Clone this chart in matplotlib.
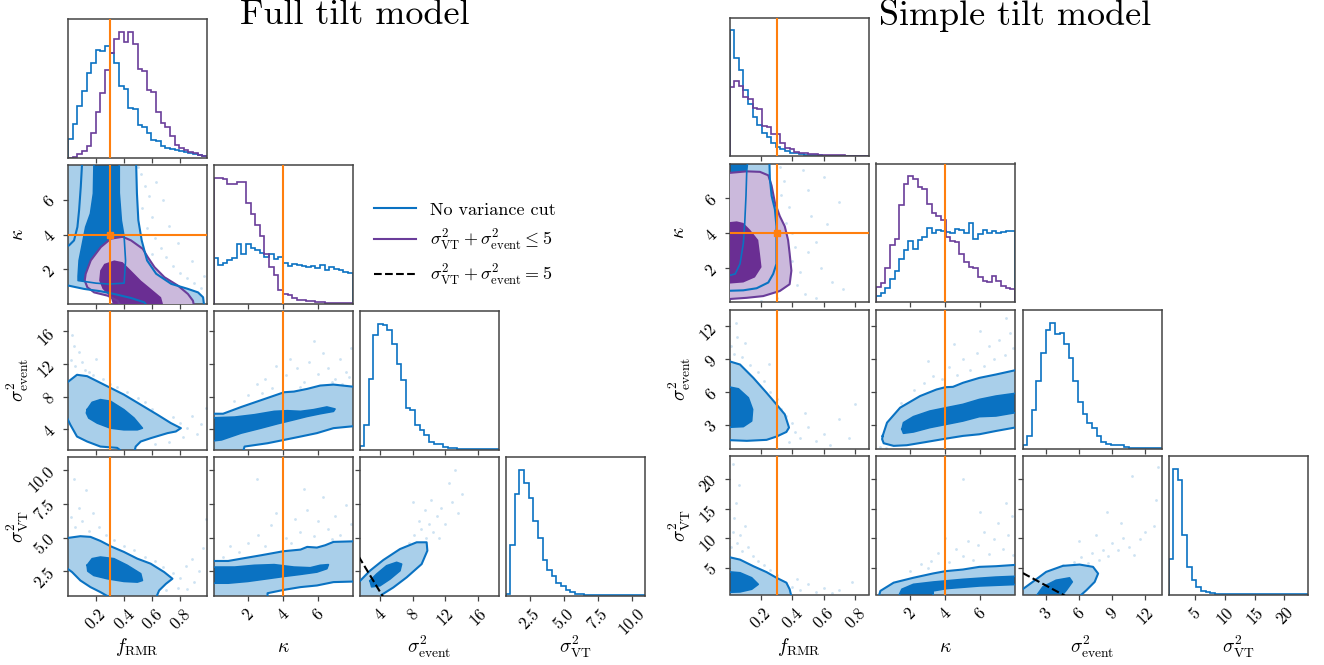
import numpy as np
import matplotlib
matplotlib.use("Agg")
import matplotlib.pyplot as plt
from matplotlib.lines import Line2D

plt.rcParams["font.family"] = "serif"
plt.rcParams["font.serif"] = ["cmr10"]
plt.rcParams["mathtext.fontset"] = "cm"
plt.rcParams["axes.formatter.use_mathtext"] = True
plt.rcParams["axes.unicode_minus"] = False

BLUE = "#0a72c2"
BLUE_LIGHT = "#a9cfea"
PURPLE = "#6a3d9a"
PURPLE_DARK = "#6a2e93"
PURPLE_LIGHT = "#cbb9dc"
ORANGE = "#ff7f0e"

# ---------------- data ----------------
labels = [r"$f_{\rm RMR}$", r"$\kappa$", r"$\sigma^2_{\rm event}$", r"$\sigma^2_{\rm VT}$"]
truths = [0.3, 4.0, None, None]

full_ranges = [(0.0, 0.99), (0.03, 8.0), (1.5, 18.5), (0.72, 10.95)]
simple_ranges = [(0.0, 0.885), (0.05, 8.0), (0.85, 13.5), (0.5, 23.9)]

full_ticks = [[0.2, 0.4, 0.6, 0.8], [2, 4, 6], [4, 8, 12, 16], [2.5, 5.0, 7.5, 10.0]]
full_ticklabels = [["0.2", "0.4", "0.6", "0.8"], ["2", "4", "6"], ["4", "8", "12", "16"],
                   ["2.5", "5.0", "7.5", "10.0"]]
simple_ticks = [[0.2, 0.4, 0.6, 0.8], [2, 4, 6], [3, 6, 9, 12], [5, 10, 15, 20]]
simple_ticklabels = [["0.2", "0.4", "0.6", "0.8"], ["2", "4", "6"], ["3", "6", "9", "12"],
                     ["5", "10", "15", "20"]]

# 1D histograms (30 bins over the axis range, relative heights)
full_f_hist_blue = [55, 100, 155, 200, 255, 283, 323, 321, 335, 315, 283, 215, 205, 150, 145,
                    98, 93, 75, 53, 50, 35, 30, 25, 23, 20, 18, 13, 11, 8, 5]
full_f_hist_purple = [0, 3, 11, 19, 35, 75, 138, 193, 263, 313, 355, 378, 348, 378, 340,
                      265, 260, 203, 196, 138, 103, 93, 65, 38, 28, 23, 18, 13, 8, 5]
full_kappa_hist_blue = [137, 117, 122, 132, 137, 182, 149, 182, 167, 162, 152, 142, 150, 134, 142,
                        122, 114, 119, 116, 114, 110, 114, 107, 117, 102, 110, 104, 102, 97, 92]
full_kappa_hist_purple = [382, 380, 377, 364, 362, 369, 370, 304, 272, 237, 204, 150, 112, 87, 42,
                          30, 27, 17, 12, 10, 8, 7, 5, 4, 3, 2, 2, 1, 1, 1]
full_event_hist_blue = [10, 75, 211, 345, 378, 373, 360, 316, 258, 208, 125, 120, 75, 58, 43,
                        23, 18, 16, 8, 5, 4, 2, 2, 1.5, 1, 1, 1, 0.5, 0.5, 0.3]
full_vt_hist_blue = [3, 150, 303, 377, 337, 293, 222, 173, 107, 77, 57, 37, 27, 17, 9,
                     5, 3, 2, 1.5, 1, 1, 0.5, 0.5, 0.3, 0.3, 0.2, 0.2, 0.1, 0.1, 0.1]

simple_f_hist_blue = [378, 295, 258, 198, 156, 116, 93, 70, 58, 40, 28, 22, 15, 10, 8,
                      5, 4, 3, 2, 2, 1.5, 1, 1, 1, 0.5, 0.5, 0.5, 0.3, 0.3, 0.3]
simple_f_hist_purple = [208, 225, 210, 176, 170, 145, 140, 90, 88, 66, 66, 40, 25, 20, 13,
                        8, 8, 6, 5, 4, 3, 3, 2, 2, 2, 1, 1, 1, 1, 0.5]
simple_kappa_hist_blue = [18, 28, 43, 70, 93, 130, 156, 185, 161, 188, 198, 223, 210, 218, 216,
                          213, 210, 220, 218, 208, 238, 190, 206, 218, 210, 216, 210, 213, 215, 215]
simple_kappa_hist_purple = [46, 58, 103, 173, 191, 293, 358, 381, 371, 348, 343, 298, 268, 260, 248,
                            196, 185, 183, 145, 121, 106, 103, 76, 63, 60, 78, 63, 48, 43, 38]
simple_event_hist_blue = [10, 37, 115, 202, 288, 357, 378, 343, 348, 315, 273, 202, 140, 105, 77,
                          63, 37, 20, 15, 12, 10, 10, 4, 3, 2, 2, 1, 1, 1, 1]
simple_vt_hist_blue = [108, 380, 345, 180, 82, 45, 23, 10, 7, 5, 3, 2, 2, 1.5, 1,
                       1, 1, 0.5, 0.5, 0.5, 0.3, 0.3, 0.3, 0.2, 0.2, 0.2, 0.2, 0.2, 0.2, 0.2]

# 2D credible regions (outer = 2 sigma, inner = 1 sigma)
full_f_kappa_blue_outer = [(-0.05, 8.5), (0.484, 8.5), (0.491, 6.36), (0.501, 4.82), (0.525, 3.66),
                           (0.544, 3.08), (0.563, 2.51), (0.628, 1.74), (0.735, 1.16), (0.854, 0.87),
                           (0.926, 0.67), (0.962, 0.39), (0.973, -0.3), (0.58, -0.3), (0.544, 0.096),
                           (0.449, 0.347), (0.329, 0.578), (0.234, 0.733), (0.115, 0.868), (-0.05, 1.15)]
full_f_kappa_blue_edge = [(0.103, 8.5), (0.091, 6.75), (0.079, 5.4), (0.067, 4.43), (0.043, 3.66),
                          (0.007, 3.37), (-0.05, 3.3)]
full_f_kappa_blue_inner = [(0.186, 8.5), (0.181, 6.36), (0.160, 5.2), (0.126, 4.43), (0.079, 2.5),
                           (0.072, 1.6), (0.072, 1.35), (0.20, 1.2), (0.29, 1.15), (0.40, 1.2),
                           (0.41, 2.5), (0.40, 3.85), (0.38, 4.8), (0.365, 6.4), (0.365, 8.5)]
full_f_kappa_purple_outer = [(0.389, 3.87), (0.449, 3.66), (0.532, 3.18), (0.568, 2.70), (0.616, 2.12),
                             (0.687, 1.54), (0.783, 1.06), (0.854, 0.58), (0.89, 0.19), (0.902, -0.3),
                             (0.389, -0.3), (0.353, 0.19), (0.282, 0.48), (0.186, 0.67), (0.138, 0.96),
                             (0.119, 1.35), (0.126, 1.74), (0.162, 2.51), (0.234, 3.28), (0.305, 3.76)]
full_f_kappa_purple_inner = [(0.329, 2.51), (0.389, 2.41), (0.449, 1.93), (0.520, 1.35), (0.592, 0.87),
                             (0.663, 0.39), (0.687, -0.3), (0.329, -0.3), (0.305, 0.39), (0.246, 0.87),
                             (0.222, 1.35), (0.229, 1.93), (0.258, 2.31)]

full_f_event_blue_outer = [(-0.03, 9.4), (0.064, 10.67), (0.136, 10.5), (0.231, 9.68), (0.303, 9.06),
                           (0.398, 8.24), (0.518, 7.0), (0.637, 5.77), (0.733, 4.74), (0.804, 4.12),
                           (0.768, 3.71), (0.709, 3.51), (0.589, 2.89), (0.518, 2.48), (0.482, 1.86),
                           (0.474, 1.3), (0.38, 1.3), (0.35, 1.7), (0.231, 1.86), (0.136, 2.48),
                           (0.064, 3.09), (0.017, 4.53), (-0.03, 6.2)]
full_f_event_blue_inner = [(0.136, 6.39), (0.172, 7.29), (0.231, 7.62), (0.303, 7.42), (0.398, 6.39),
                           (0.470, 5.36), (0.530, 4.12), (0.494, 3.92), (0.398, 3.92), (0.303, 4.12),
                           (0.208, 4.74), (0.148, 5.36), (0.131, 5.98)]

full_kappa_event_blue_outer = [(-0.3, 5.89), (0.58, 5.89), (1.62, 6.72), (3.13, 7.83), (4.08, 8.53),
                               (4.64, 8.61), (5.40, 8.94), (6.15, 9.35), (6.91, 9.47), (8.3, 9.15),
                               (8.3, 4.41), (6.91, 4.12), (5.96, 3.51), (5.02, 3.09), (4.08, 2.68),
                               (3.13, 2.27), (1.81, 1.86), (1.72, 1.2), (-0.3, 1.2)]
full_kappa_event_blue_inner = [(-0.3, 5.36), (1.25, 5.48), (2.38, 5.77), (3.51, 6.18), (4.26, 6.26),
                               (5.02, 6.18), (5.77, 6.39), (6.53, 6.72), (7.0, 6.47), (6.91, 6.18),
                               (6.15, 5.89), (5.40, 5.56), (4.64, 5.15), (3.70, 4.66), (2.75, 4.12),
                               (1.62, 3.51), (0.49, 2.68), (-0.3, 2.48)]

full_f_vt_blue_outer = [(-0.03, 4.93), (0.088, 5.1), (0.160, 5.05), (0.231, 4.75), (0.303, 4.36),
                        (0.398, 3.94), (0.494, 3.44), (0.589, 3.07), (0.685, 2.45), (0.744, 1.96),
                        (0.697, 1.58), (0.649, 1.09), (0.625, 0.5), (0.31, 0.5), (0.231, 0.97),
                        (0.160, 1.34), (0.088, 1.83), (0.029, 2.45), (-0.03, 2.9)]
full_f_vt_blue_inner = [(0.136, 2.95), (0.172, 3.44), (0.231, 3.56), (0.327, 3.44), (0.422, 2.95),
                        (0.518, 2.33), (0.530, 1.83), (0.494, 1.71), (0.398, 1.76), (0.279, 1.96),
                        (0.184, 2.2), (0.141, 2.52)]

full_kappa_vt_blue_outer = [(-0.3, 3.27), (0.87, 3.27), (1.62, 3.44), (2.75, 3.69), (4.04, 3.99),
                            (5.02, 4.11), (5.40, 4.31), (5.96, 4.26), (6.43, 4.43), (6.91, 4.68),
                            (8.3, 4.73), (8.3, 1.76), (6.91, 1.71), (5.96, 1.46), (5.02, 1.34),
                            (4.08, 1.14), (3.13, 0.89), (3.13, 0.5), (-0.3, 0.5)]
full_kappa_vt_blue_inner = [(-0.3, 2.82), (1.25, 2.82), (2.38, 2.95), (3.51, 3.0), (4.64, 2.82),
                            (5.58, 2.77), (6.15, 2.95), (6.62, 3.0), (6.53, 2.70), (5.96, 2.45),
                            (5.02, 2.28), (4.08, 2.13), (3.13, 1.96), (2.0, 1.76), (0.87, 1.63),
                            (-0.3, 1.63)]

full_event_vt_blue_outer = [(1.0, 1.45), (2.78, 2.55), (4.41, 3.34), (6.45, 4.15), (8.49, 4.65),
                            (9.71, 4.65), (9.8, 4.03), (9.1, 3.04), (7.27, 2.06), (5.63, 1.31),
                            (4.2, 0.77), (3.9, 0.5), (1.0, 0.5)]
full_event_vt_blue_inner = [(2.78, 1.81), (3.59, 2.30), (4.82, 2.92), (6.04, 3.17), (6.65, 3.04),
                            (6.45, 2.55), (5.22, 1.93), (4.0, 1.44), (2.98, 1.36)]

simple_f_kappa_blue_outer = [(-0.05, 8.5), (0.253, 8.5), (0.257, 7.13), (0.268, 6.15), (0.289, 5.37),
                             (0.299, 4.39), (0.299, 3.41), (0.299, 2.24), (0.278, 1.66), (0.247, 1.17),
                             (0.173, 0.84), (0.088, 0.72), (-0.05, 0.68)]
simple_f_kappa_blue_inner = [(-0.05, 8.5), (0.120, 8.5), (0.110, 7.61), (0.105, 6.15), (0.097, 4.59),
                             (0.088, 3.41), (0.067, 2.24), (0.036, 1.66), (-0.05, 1.46)]
simple_f_kappa_purple_outer = [(-0.05, 7.42), (0.110, 7.55), (0.194, 7.52), (0.247, 7.32), (0.268, 6.73),
                               (0.289, 5.76), (0.320, 4.98), (0.352, 4.39), (0.373, 3.61), (0.383, 2.83),
                               (0.394, 1.85), (0.383, 1.07), (0.320, 0.68), (0.215, 0.39), (0.110, 0.29),
                               (-0.05, 0.19)]
simple_f_kappa_purple_inner = [(-0.05, 4.59), (0.046, 4.68), (0.088, 4.59), (0.131, 4.20), (0.183, 3.61),
                               (0.194, 2.83), (0.204, 2.05), (0.162, 1.46), (0.088, 1.17), (-0.05, 1.07)]

simple_f_event_blue_outer = [(-0.05, 9.03), (0.067, 8.52), (0.152, 7.30), (0.236, 5.94), (0.299, 4.88),
                             (0.352, 3.97), (0.379, 2.76), (0.362, 2.36), (0.299, 1.94), (0.236, 1.64),
                             (0.110, 1.55), (-0.05, 1.64)]
simple_f_event_blue_inner = [(-0.05, 6.61), (0.057, 6.30), (0.120, 5.48), (0.147, 4.42), (0.141, 3.36),
                             (0.088, 2.85), (-0.05, 2.76)]

simple_kappa_event_blue_outer = [(0.43, 2.0), (0.68, 3.21), (1.43, 4.58), (2.57, 5.64), (3.51, 6.24),
                                 (4.02, 6.45), (4.45, 6.48), (5.02, 6.85), (5.96, 7.30), (6.91, 7.61),
                                 (8.3, 8.1), (8.3, 2.85), (6.91, 2.45), (5.96, 2.15), (5.02, 2.0),
                                 (4.08, 1.76), (2.94, 1.45), (1.81, 1.15), (1.06, 1.09), (0.49, 1.33),
                                 (0.40, 1.70)]
simple_kappa_event_blue_inner = [(1.53, 2.61), (1.62, 3.21), (2.19, 3.76), (3.13, 4.27), (4.08, 4.58),
                                 (5.02, 4.88), (5.96, 5.33), (6.91, 5.64), (8.3, 5.95), (8.3, 4.2),
                                 (6.91, 3.82), (5.96, 3.76), (5.02, 3.36), (4.08, 3.06), (3.13, 2.76),
                                 (2.19, 2.36), (1.62, 2.24)]

simple_f_vt_blue_outer = [(-0.05, 7.1), (0.067, 6.39), (0.152, 5.28), (0.236, 4.28), (0.299, 3.33),
                          (0.362, 2.5), (0.383, 1.39), (0.394, 0.2), (-0.05, 0.2)]
simple_f_vt_blue_inner = [(-0.05, 4.44), (0.067, 4.17), (0.141, 3.33), (0.183, 2.22), (0.141, 1.39),
                          (0.067, 0.94), (-0.05, 0.83)]

simple_kappa_vt_blue_outer = [(0.21, 0.2), (0.30, 1.11), (1.06, 2.5), (2.19, 3.33), (3.32, 4.06),
                              (4.02, 4.44), (5.02, 4.72), (5.96, 5.17), (6.91, 5.28), (8.3, 5.56),
                              (8.3, 0.2)]
simple_kappa_vt_blue_inner = [(1.34, 0.2), (1.53, 1.39), (2.19, 2.22), (3.32, 2.61), (5.02, 3.06),
                              (6.91, 3.44), (8.3, 3.61), (8.3, 2.22), (5.96, 1.94), (4.08, 1.5),
                              (3.32, 1.11), (3.32, 0.2)]

simple_event_vt_blue_outer = [(0.5, 0.9), (1.78, 2.63), (3.0, 4.32), (4.52, 5.34), (6.05, 5.56),
                              (7.27, 5.17), (7.73, 4.04), (7.42, 2.63), (6.66, 1.21), (6.05, 0.2),
                              (0.5, 0.2)]
simple_event_vt_blue_inner = [(2.09, 0.2), (2.70, 1.78), (3.91, 2.91), (5.13, 3.31), (5.38, 2.63),
                              (4.83, 1.21), (4.37, 0.2)]

# faint posterior samples outside the 2-sigma regions (approximate positions)
full_f_kappa_samples = [(0.52, 7.5), (0.55, 6.8), (0.58, 6.2), (0.53, 5.5), (0.6, 5.0), (0.56, 4.4),
                        (0.62, 3.8), (0.66, 3.2), (0.7, 2.7), (0.75, 2.2), (0.8, 1.8), (0.85, 1.5),
                        (0.9, 1.2), (0.95, 0.9), (0.63, 7.0), (0.68, 6.0), (0.72, 4.5), (0.78, 3.5),
                        (0.88, 2.5), (0.6, 2.9), (0.5, 7.9), (0.04, 7.2), (0.02, 5.5), (0.05, 6.3),
                        (0.83, 0.6), (0.97, 1.6)]
full_f_event_samples = [(0.02, 12.5), (0.05, 11.8), (0.08, 13.5), (0.1, 12.2), (0.12, 11.3), (0.04, 14.2),
                        (0.15, 11.0), (0.18, 10.6), (0.2, 12.6), (0.25, 10.2), (0.3, 9.6), (0.35, 9.2),
                        (0.42, 8.6), (0.5, 7.8), (0.55, 7.3), (0.6, 6.5), (0.68, 5.2), (0.75, 5.5),
                        (0.8, 4.8), (0.85, 4.2), (0.88, 5.6), (0.92, 3.4), (0.95, 4.6), (0.82, 3.0),
                        (0.72, 2.4), (0.62, 2.2), (0.98, 6.6), (0.03, 15.5), (0.1, 9.9)]
full_kappa_event_samples = [(1.2, 7.5), (2.0, 8.2), (2.5, 9.5), (3.0, 10.2), (3.4, 9.0), (4.2, 10.6),
                            (4.8, 11.5), (5.2, 9.8), (5.5, 12.2), (6.0, 10.8), (6.3, 13.3), (6.6, 11.5),
                            (7.0, 10.2), (7.3, 12.6), (7.6, 11.0), (7.9, 14.0), (5.8, 14.8), (4.4, 12.6),
                            (3.6, 11.8), (6.8, 9.8), (7.8, 10.4), (2.8, 8.4), (5.0, 9.2), (7.4, 9.6)]
full_f_vt_samples = [(0.02, 6.5), (0.05, 5.8), (0.08, 7.2), (0.1, 6.2), (0.13, 8.5), (0.15, 5.5),
                     (0.18, 6.8), (0.04, 9.3), (0.22, 5.8), (0.27, 5.2), (0.33, 4.8), (0.4, 4.4),
                     (0.47, 4.1), (0.55, 3.6), (0.62, 3.3), (0.68, 2.8), (0.75, 2.4), (0.8, 2.0),
                     (0.84, 2.9), (0.88, 3.4), (0.9, 1.7), (0.93, 2.5), (0.96, 4.2), (0.78, 1.3),
                     (0.7, 1.1), (0.85, 1.2), (0.98, 6.4)]
full_kappa_vt_samples = [(0.6, 3.6), (1.0, 4.4), (1.5, 3.9), (2.0, 4.6), (2.6, 5.2), (3.0, 4.4),
                         (3.3, 5.9), (3.6, 6.8), (4.2, 5.0), (4.5, 4.6), (4.7, 6.4), (5.0, 5.4),
                         (5.4, 7.0), (5.8, 5.1), (6.0, 6.2), (6.3, 8.0), (6.6, 5.6), (7.0, 6.6),
                         (7.3, 5.2), (7.6, 7.4), (7.9, 6.0), (2.5, 9.3), (5.2, 8.6), (6.8, 4.9)]
full_event_vt_samples = [(7.5, 4.6), (8.2, 5.2), (9.0, 5.6), (9.6, 5.0), (10.0, 6.0), (10.5, 5.4),
                         (11.0, 6.6), (8.8, 6.2), (11.5, 7.2), (12.0, 6.0), (12.8, 7.6), (13.5, 6.8),
                         (10.2, 7.8), (9.5, 7.0), (14.0, 8.2), (12.5, 9.0), (8.0, 7.6), (11.2, 5.0),
                         (6.5, 3.9), (13.2, 10.0)]

simple_f_kappa_samples = [(0.32, 7.8), (0.35, 7.0), (0.33, 6.2), (0.38, 5.5), (0.36, 4.6), (0.4, 4.0),
                          (0.42, 3.2), (0.4, 2.4), (0.45, 1.8), (0.43, 1.0), (0.48, 0.5), (0.5, 6.5),
                          (0.52, 5.0), (0.55, 3.5), (0.58, 2.0), (0.6, 7.2), (0.62, 4.5), (0.65, 1.2),
                          (0.47, 7.6), (0.5, 2.9), (0.7, 5.8), (0.72, 0.8), (0.3, 0.3), (0.2, 0.1),
                          (0.55, 0.3)]
simple_f_event_samples = [(0.01, 10.2), (0.03, 9.5), (0.05, 11.0), (0.08, 9.2), (0.1, 10.5), (0.04, 12.3),
                          (0.13, 8.5), (0.18, 7.8), (0.22, 7.0), (0.26, 6.0), (0.3, 5.4), (0.33, 4.5),
                          (0.36, 3.8), (0.4, 3.2), (0.42, 2.4), (0.45, 1.8), (0.5, 2.8), (0.55, 1.5),
                          (0.6, 2.2), (0.64, 1.2), (0.7, 3.5), (0.38, 1.4), (0.48, 4.1), (0.76, 1.8),
                          (0.8, 4.9), (0.25, 8.6)]
simple_kappa_event_samples = [(1.5, 5.0), (2.2, 6.2), (2.8, 6.8), (3.3, 7.5), (3.8, 7.2), (4.2, 8.3),
                              (4.7, 7.6), (5.0, 9.0), (5.4, 8.0), (5.8, 9.6), (6.2, 8.4), (6.5, 10.2),
                              (6.8, 9.0), (7.1, 10.8), (7.4, 9.4), (7.7, 11.4), (7.9, 10.0), (6.0, 11.6),
                              (4.5, 10.4), (3.0, 8.8), (7.5, 12.8), (0.3, 1.0), (0.6, 0.9)]
simple_f_vt_samples = [(0.01, 8.5), (0.02, 11.0), (0.03, 13.5), (0.05, 9.2), (0.07, 10.5), (0.08, 7.8),
                       (0.1, 12.0), (0.12, 8.6), (0.04, 16.0), (0.15, 7.0), (0.18, 6.2), (0.22, 5.4),
                       (0.26, 4.6), (0.3, 3.8), (0.36, 2.5), (0.4, 1.8), (0.45, 1.2), (0.5, 2.2),
                       (0.55, 1.0), (0.6, 1.6), (0.65, 0.8), (0.7, 1.3), (0.43, 3.2), (0.78, 2.6),
                       (0.02, 22.5), (0.06, 19.0)]
simple_kappa_vt_samples = [(2.0, 4.5), (2.6, 5.6), (3.2, 6.2), (3.6, 7.5), (4.2, 6.0), (4.6, 8.2),
                           (5.0, 7.0), (5.3, 9.5), (5.6, 6.4), (5.9, 8.8), (6.2, 11.0), (6.5, 7.4),
                           (6.8, 9.8), (7.0, 12.5), (7.3, 8.2), (7.6, 10.6), (7.8, 13.8), (7.9, 7.2),
                           (6.0, 14.5), (4.0, 10.0), (7.5, 16.0), (5.0, 20.0), (3.0, 4.9), (0.4, 0.6)]
simple_event_vt_samples = [(5.5, 6.0), (6.2, 6.8), (6.8, 5.8), (7.2, 7.5), (7.8, 6.4), (8.2, 8.0),
                           (8.6, 7.0), (9.0, 9.2), (9.5, 8.0), (10.0, 10.0), (10.5, 8.6), (11.0, 7.2),
                           (11.5, 9.8), (12.0, 11.0), (6.0, 9.5), (7.5, 10.5), (9.8, 12.5), (12.8, 12.0),
                           (13.2, 22.0), (10.8, 20.5), (13.0, 16.5), (8.5, 14.5), (4.5, 5.5)]

# variance cut boundary sigma_VT^2 + sigma_event^2 = 5
cut_event = [0.0, 5.0]
cut_vt = [5.0, 0.0]

# ---------------- layout (pixels) ----------------
W, H = 1324, 665
full_cols = [68, 213.5, 359.5, 505.5]
full_rows = [19, 165, 311, 457]
simple_cols = [729.5, 876, 1022.5, 1168.5]
simple_rows = [17.5, 163.5, 310, 456]
panel_w, panel_h = 139, 138.5

fig = plt.figure(figsize=(W / 100, H / 100), dpi=100)


def add_panel(x0, y0):
    return fig.add_axes([x0 / W, 1 - (y0 + panel_h) / H, panel_w / W, panel_h / H])


def region(ax, pts, color, z):
    xs, ys = zip(*pts)
    ax.fill(xs, ys, color=color, lw=0, zorder=z)


def outline(ax, pts, color, z, lw=1.5, closed=True):
    xs, ys = list(zip(*pts))
    xs, ys = list(xs), list(ys)
    if closed:
        xs.append(xs[0])
        ys.append(ys[0])
    ax.plot(xs, ys, color=color, lw=lw, zorder=z, solid_joinstyle="round")


def corner(cols, rows, ranges, ticks, ticklabels, hists, blue2d, purple2d, samples, extra_edges):
    axes = {}
    for i in range(4):
        for j in range(i + 1):
            ax = add_panel(cols[j], rows[i])
            axes[(i, j)] = ax
            for s in ax.spines.values():
                s.set_color("#444444")
                s.set_linewidth(1.1)
            ax.set_xlim(*ranges[j])
            ax.set_xticks(ticks[j])
            ax.tick_params(length=3.5, width=0.9, colors="#444444", labelsize=12,
                           labelcolor="black", pad=4)
            if i == 3:
                ax.set_xticklabels(ticklabels[j], rotation=45)
            else:
                ax.set_xticklabels([])
            if i == j:
                ax.set_yticks([])
                series = hists[i]
                top = max(max(v) for v, _ in series)
                for vals, col in series:
                    edges = np.linspace(ranges[j][0], ranges[j][1], len(vals) + 1)
                    ax.stairs(vals, edges, color=col, lw=1.2)
                ax.set_ylim(0, 1.1 * top)
            else:
                ax.set_ylim(*ranges[i])
                ax.set_yticks(ticks[i])
                if j == 0:
                    ax.set_yticklabels(ticklabels[i], rotation=45)
                else:
                    ax.set_yticklabels([])
                sx, sy = zip(*samples[(i, j)])
                ax.scatter(sx, sy, s=4, color=BLUE, alpha=0.2, lw=0, zorder=0.5)
                outer, inner = blue2d[(i, j)]
                region(ax, outer, BLUE_LIGHT, 1)
                region(ax, inner, BLUE, 2)
                if (i, j) in purple2d:
                    p_out, p_in = purple2d[(i, j)]
                    region(ax, p_out, PURPLE_LIGHT, 3)
                    region(ax, p_in, PURPLE_DARK, 4)
                    outline(ax, p_out, PURPLE, 5)
                outline(ax, outer, BLUE, 6)
                outline(ax, inner, BLUE, 6, lw=1.2)
                if (i, j) in extra_edges:
                    outline(ax, extra_edges[(i, j)], BLUE, 6, closed=False)
                if truths[i] is not None:
                    ax.axhline(truths[i], color=ORANGE, lw=1.5, zorder=8)
            if truths[j] is not None:
                ax.axvline(truths[j], color=ORANGE, lw=1.5, zorder=8)
            if i != j and truths[i] is not None and truths[j] is not None:
                ax.plot(truths[j], truths[i], "s", color=ORANGE, ms=5, zorder=9)
    axes[(3, 2)].plot(cut_event, cut_vt, color="black", ls="--", lw=1.5, zorder=7)
    for k in range(4):
        fig.text((cols[k] + panel_w / 2) / W, 1 - 647 / H, labels[k], ha="center", va="center",
                 fontsize=14)
    for k in range(1, 4):
        fig.text((cols[0] - 50) / W, 1 - (rows[k] + panel_h / 2) / H, labels[k], ha="center",
                 va="center", rotation=90, fontsize=14)
    return axes


corner(full_cols, full_rows, full_ranges, full_ticks, full_ticklabels,
       [[(full_f_hist_blue, BLUE), (full_f_hist_purple, PURPLE)],
        [(full_kappa_hist_blue, BLUE), (full_kappa_hist_purple, PURPLE)],
        [(full_event_hist_blue, BLUE)],
        [(full_vt_hist_blue, BLUE)]],
       {(1, 0): (full_f_kappa_blue_outer, full_f_kappa_blue_inner),
        (2, 0): (full_f_event_blue_outer, full_f_event_blue_inner),
        (2, 1): (full_kappa_event_blue_outer, full_kappa_event_blue_inner),
        (3, 0): (full_f_vt_blue_outer, full_f_vt_blue_inner),
        (3, 1): (full_kappa_vt_blue_outer, full_kappa_vt_blue_inner),
        (3, 2): (full_event_vt_blue_outer, full_event_vt_blue_inner)},
       {(1, 0): (full_f_kappa_purple_outer, full_f_kappa_purple_inner)},
       {(1, 0): full_f_kappa_samples, (2, 0): full_f_event_samples,
        (2, 1): full_kappa_event_samples, (3, 0): full_f_vt_samples,
        (3, 1): full_kappa_vt_samples, (3, 2): full_event_vt_samples},
       {(1, 0): full_f_kappa_blue_edge})

corner(simple_cols, simple_rows, simple_ranges, simple_ticks, simple_ticklabels,
       [[(simple_f_hist_blue, BLUE), (simple_f_hist_purple, PURPLE)],
        [(simple_kappa_hist_blue, BLUE), (simple_kappa_hist_purple, PURPLE)],
        [(simple_event_hist_blue, BLUE)],
        [(simple_vt_hist_blue, BLUE)]],
       {(1, 0): (simple_f_kappa_blue_outer, simple_f_kappa_blue_inner),
        (2, 0): (simple_f_event_blue_outer, simple_f_event_blue_inner),
        (2, 1): (simple_kappa_event_blue_outer, simple_kappa_event_blue_inner),
        (3, 0): (simple_f_vt_blue_outer, simple_f_vt_blue_inner),
        (3, 1): (simple_kappa_vt_blue_outer, simple_kappa_vt_blue_inner),
        (3, 2): (simple_event_vt_blue_outer, simple_event_vt_blue_inner)},
       {(1, 0): (simple_f_kappa_purple_outer, simple_f_kappa_purple_inner)},
       {(1, 0): simple_f_kappa_samples, (2, 0): simple_f_event_samples,
        (2, 1): simple_kappa_event_samples, (3, 0): simple_f_vt_samples,
        (3, 1): simple_kappa_vt_samples, (3, 2): simple_event_vt_samples},
       {})

fig.text(355 / W, 1 - 15 / H, "Full tilt model", ha="center", va="center", fontsize=26)
fig.text(1015 / W, 1 - 15 / H, "Simple tilt model", ha="center", va="center", fontsize=26)

handles = [Line2D([], [], color=BLUE, lw=1.5),
           Line2D([], [], color=PURPLE, lw=1.5),
           Line2D([], [], color="black", lw=1.5, ls="--")]
legend_labels = ["No variance cut",
                 r"$\sigma^2_{\rm VT} + \sigma^2_{\rm event} \leq 5$",
                 r"$\sigma^2_{\rm VT} + \sigma^2_{\rm event} = 5$"]
fig.legend(handles, legend_labels, loc="center left", bbox_to_anchor=(358 / W, 1 - 245 / H),
           frameon=False, fontsize=13, handlelength=2.3, handletextpad=0.8, labelspacing=0.55)

fig.savefig("out.png", dpi=100)
